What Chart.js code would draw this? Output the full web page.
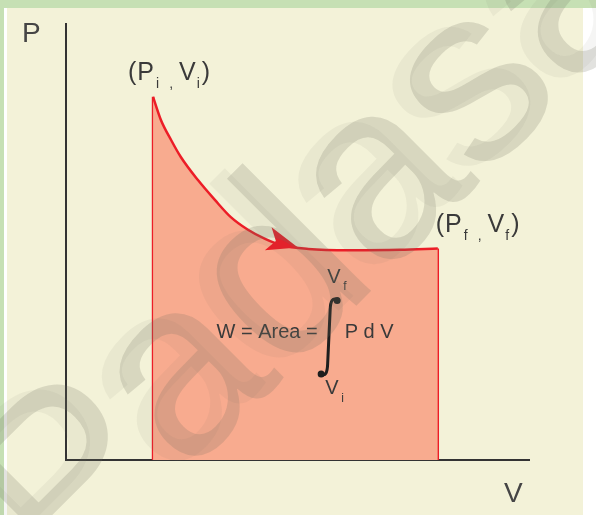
<!DOCTYPE html>
<html>
<head>
<meta charset="utf-8">
<script src="https://cdn.jsdelivr.net/npm/chart.js@4.4.1/dist/chart.umd.min.js"></script>
<style>
    html, body { margin: 0; padding: 0; background: #fff; width: 596px; height: 515px; overflow: hidden; }
    #frame { position: relative; width: 596px; height: 515px; }
    .strip { position: absolute; }
    #topbar { left: 0; top: 0; width: 596px; height: 8px; background: #c6e0b4; }
    #leftbar { left: 0; top: 8px; width: 4px; height: 507px; background: #c6e0b4; }
    #paper { left: 7px; top: 8px; width: 576px; height: 507px; background: #f3f2d8; }
    canvas { position: absolute; left: 0; top: 0; }
</style>
</head>
<body>
<div id="frame">
    <div class="strip" id="topbar"></div>
    <div class="strip" id="leftbar"></div>
    <div class="strip" id="paper"></div>
    <canvas id="pvChart" width="596" height="515"></canvas>
</div>
<script>
// expansion path, V (x) and P (y) in arbitrary units
var volume   = [18.8, 20.5, 22.7, 24.8, 28.5, 32.2, 35.6, 39.3, 43.0, 46.4, 52.3, 61.3, 72.1, 80.3];
var pressure = [83.3, 78.0, 73.4, 69.5, 64.2, 59.6, 55.7, 52.8, 50.7, 49.3, 48.4, 48.1, 48.2, 48.5];
var xRange = [0, 100];
var yRange = [0, 100];
var arrowAt = 50.1;          // V where the arrow tip sits
var formulaAt = [55, 28];    // V, P where the integral sits
var watermark = 'Padasalai';

var red = '#ec1d27';
var salmon = '#f8ab8f';
var ink = '#3a3a3a';
var font = "'Liberation Sans', Arial, sans-serif";

var curve = volume.map(function (v, i) { return { x: v, y: pressure[i] }; });
var last = volume.length - 1;

function pressureAt(v) {
    for (var i = 1; i < volume.length; i++) {
        if (v <= volume[i]) {
            var t = (v - volume[i - 1]) / (volume[i] - volume[i - 1]);
            return pressure[i - 1] + t * (pressure[i] - pressure[i - 1]);
        }
    }
    return pressure[last];
}

// text pieces: [text, size, dy, gap before]
function drawParts(ctx, x, y, parts) {
    parts.forEach(function (p) {
        x += p[3] || 0;
        ctx.font = p[1] + 'px ' + font;
        ctx.fillText(p[0], x, y + p[2]);
        x += ctx.measureText(p[0]).width;
    });
}

function pointLabel(sub) {
    return [['(', 25, 0], ['P', 25, 0, 1], [sub, 14, 8, 2], [',', 14, 8, 10],
            ['V', 25, 0, 6], [sub, 14, 8, 1], [')', 25, 0, 2]];
}

var notes = {
    id: 'pvNotes',
    afterDraw: function (chart) {
        var ctx = chart.ctx;
        var xs = chart.scales.x, ys = chart.scales.y;
        var area = chart.chartArea;
        function px(v, p) { return { x: xs.getPixelForValue(v), y: ys.getPixelForValue(p) }; }

        ctx.save();

        // arrow head on the curve
        var tip = px(arrowAt, pressureAt(arrowAt));
        var back = px(arrowAt - 8, pressureAt(arrowAt - 8));
        ctx.save();
        ctx.translate(tip.x, tip.y);
        ctx.rotate(Math.atan2(tip.y - back.y, tip.x - back.x));
        ctx.fillStyle = red;
        ctx.beginPath();
        ctx.moveTo(0, 0);
        ctx.lineTo(-31, -12);
        ctx.lineTo(-23, 0);
        ctx.lineTo(-31, 12);
        ctx.closePath();
        ctx.fill();
        ctx.restore();

        ctx.textBaseline = 'alphabetic';
        ctx.textAlign = 'left';

        // axis letters
        ctx.fillStyle = '#454545';
        ctx.font = '28px ' + font;
        ctx.fillText('P', area.left - 44, area.top + 18);
        ctx.fillText('V', area.right - 25, area.bottom + 42);

        // end point labels
        ctx.fillStyle = ink;
        var a = px(volume[0], pressure[0]);
        drawParts(ctx, a.x - 25, a.y - 17, pointLabel('i'));
        var b = px(volume[last], pressure[last]);
        drawParts(ctx, b.x - 2, b.y - 17, pointLabel('f'));

        // W = Area = integral P dV
        var f = px(formulaAt[0], formulaAt[1]);
        ctx.font = '20px ' + font;
        ctx.textAlign = 'right';
        ctx.fillText('W = Area =', f.x - 3, f.y);
        ctx.textAlign = 'left';
        ctx.fillText('P d V', f.x + 24, f.y);
        ctx.fillText('V', f.x + 6.5, f.y - 55);
        ctx.fillText('V', f.x + 4.5, f.y + 56);
        ctx.font = '12px ' + font;
        ctx.fillText('f', f.x + 22.5, f.y - 48);
        ctx.fillText('i', f.x + 20.5, f.y + 64);

        ctx.strokeStyle = '#1e1e1e';
        ctx.lineWidth = 3;
        ctx.beginPath();
        ctx.moveTo(f.x + 16.5, f.y - 38);
        ctx.quadraticCurveTo(f.x + 10, f.y - 42, f.x + 9.5, f.y - 28);
        ctx.lineTo(f.x + 7, f.y + 26);
        ctx.quadraticCurveTo(f.x + 6.5, f.y + 40, f.x + 0.5, f.y + 36);
        ctx.stroke();
        ctx.fillStyle = '#1e1e1e';
        ctx.beginPath();
        ctx.arc(f.x + 16.5, f.y - 37.5, 3.5, 0, Math.PI * 2);
        ctx.arc(f.x + 0.5, f.y + 36, 3.5, 0, Math.PI * 2);
        ctx.fill();

        // site watermark across the picture
        ctx.font = '250px ' + font;
        ctx.translate(68, 594);
        ctx.rotate(-Math.PI / 4);
        ctx.fillStyle = 'rgba(110, 110, 95, 0.07)';
        ctx.fillText(watermark, -16, -9);
        ctx.fillStyle = 'rgba(110, 110, 95, 0.20)';
        ctx.fillText(watermark, 0, 0);

        ctx.restore();
    }
};

var axisOpts = {
    type: 'linear',
    z: 1,
    grid: { display: false, drawTicks: false },
    ticks: { display: false },
    border: { display: true, color: '#333', width: 2 }
};

var edge = { showLine: true, borderColor: red, borderWidth: 2.5, pointRadius: 0 };

new Chart(document.getElementById('pvChart'), {
    type: 'scatter',
    data: {
        datasets: [{
            data: curve,
            showLine: true,
            borderColor: red,
            borderWidth: 2.5,
            backgroundColor: salmon,
            fill: 'origin',
            pointRadius: 0,
            cubicInterpolationMode: 'monotone'
        }, Object.assign({
            data: [{ x: volume[0], y: yRange[0] }, { x: volume[0], y: pressure[0] }]
        }, edge), Object.assign({
            data: [{ x: volume[last], y: pressure[last] }, { x: volume[last], y: yRange[0] }]
        }, edge)]
    },
    options: {
        responsive: false,
        animation: false,
        layout: { padding: { left: 66, top: 24, right: 67, bottom: 55 } },
        plugins: { legend: { display: false }, tooltip: { enabled: false } },
        scales: {
            x: Object.assign({}, axisOpts, { min: xRange[0], max: xRange[1] }),
            y: Object.assign({}, axisOpts, { min: yRange[0], max: yRange[1] })
        }
    },
    plugins: [notes]
});
</script>
</body>
</html>
